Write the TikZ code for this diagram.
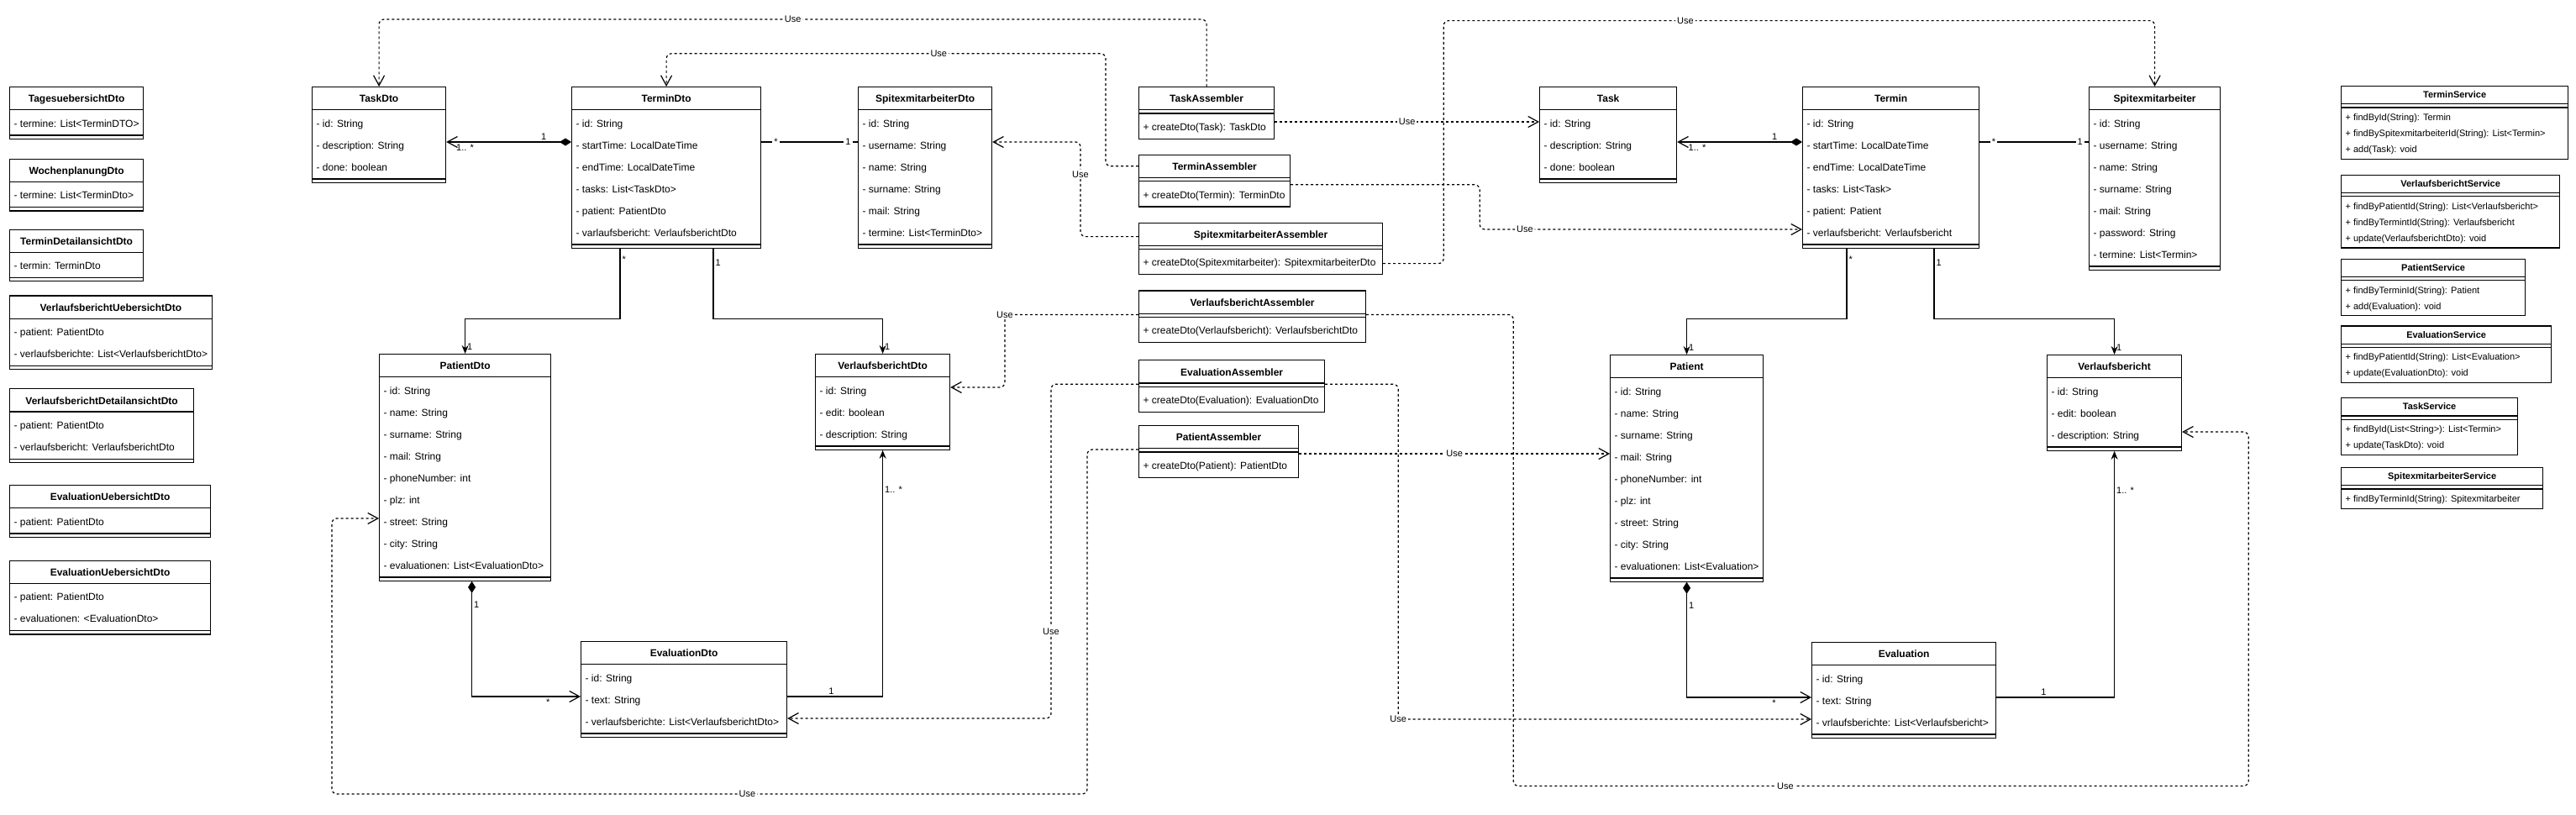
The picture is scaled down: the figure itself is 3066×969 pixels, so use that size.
\documentclass[tikz,border=0pt]{standalone}
\usepackage{fontspec}
\setmainfont{Liberation Sans}
\usepackage{tikz}
\usetikzlibrary{positioning, shapes.multipart, arrows.meta}

\begin{document}
\begin{tikzpicture}[x=0.5pt, y=-0.5pt,
  umlclass/.style={draw, line width=0.6pt, fill=white, anchor=north west, align=left,
    rectangle split, rectangle split parts=3, rectangle split part align={center,left,left},
    inner xsep=2.5pt, inner ysep=0.75pt,
    font=\fontsize{6pt}{11.5pt}\selectfont\bfseries,
    every two node part/.style={font=\fontsize{6pt}{13pt}\selectfont\mdseries},
    every three node part/.style={font=\fontsize{6pt}{13pt}\selectfont\mdseries}},
  svcclass/.style={umlclass, font=\fontsize{5.5pt}{8.5pt}\selectfont\bfseries,
    every three node part/.style={font=\fontsize{5.5pt}{9.5pt}\selectfont\mdseries}},
  assoc/.style={line width=0.6pt, -{Stealth[length=5pt,width=4pt]}},
  comp/.style={line width=0.6pt, {Diamond[length=7pt,width=4.5pt]}-{Straight Barb[length=6pt,width=6.5pt]}},
  link/.style={line width=0.6pt},
  usedep/.style={line width=0.6pt, dash pattern=on 1.5pt off 1.5pt, rounded corners=3pt,
    -{Straight Barb[length=6pt,width=6.5pt]}},
  mult/.style={font=\fontsize{5.5pt}{6pt}\selectfont, inner sep=1pt},
  onlbl/.style={mult, fill=white}]
  \path[use as bounding box, fill=white] (0,0) rectangle (3066,969);

  \node[umlclass, minimum width=79.5pt] (tagesdto) at (11,103)
    {\strut TagesuebersichtDto\nodepart{two}\strut - termine: List<TerminDTO>\nodepart{three}\rule{1pt}{0pt}};
  \node[umlclass, minimum width=79.5pt, below=11.5pt of tagesdto.south west, anchor=north west] (wochendto)
    {\strut WochenplanungDto\nodepart{two}\strut - termine: List<TerminDto>\nodepart{three}\rule{1pt}{0pt}};
  \node[umlclass, minimum width=79.5pt, below=10.5pt of wochendto.south west, anchor=north west] (termindetaildto)
    {\strut TerminDetailansichtDto\nodepart{two}\strut - termin: TerminDto\nodepart{three}\rule{1pt}{0pt}};
  \node[umlclass, minimum width=119.5pt, below=8pt of termindetaildto.south west, anchor=north west] (vbuebersichtdto)
    {\strut VerlaufsberichtUebersichtDto\nodepart{two}\strut - patient: PatientDto\\- verlaufsberichte: List<VerlaufsberichtDto>\strut\nodepart{three}\rule{1pt}{0pt}};
  \node[umlclass, minimum width=109.5pt, below=11pt of vbuebersichtdto.south west, anchor=north west] (vbdetaildto)
    {\strut VerlaufsberichtDetailansichtDto\nodepart{two}\strut - patient: PatientDto\\- verlaufsbericht: VerlaufsberichtDto\strut\nodepart{three}\rule{1pt}{0pt}};
  \node[umlclass, minimum width=119.5pt, below=13pt of vbdetaildto.south west, anchor=north west] (evaluebersichtdto)
    {\strut EvaluationUebersichtDto\nodepart{two}\strut - patient: PatientDto\nodepart{three}\rule{1pt}{0pt}};
  \node[umlclass, minimum width=119.5pt, below=13.5pt of evaluebersichtdto.south west, anchor=north west] (evallistdto)
    {\strut EvaluationUebersichtDto\nodepart{two}\strut - patient: PatientDto\\- evaluationen: <EvaluationDto>\strut\nodepart{three}\rule{1pt}{0pt}};

  \node[umlclass, minimum width=79.5pt] (taskdto) at (371,103)
    {\strut TaskDto\nodepart{two}\strut - id: String\\- description: String\\- done: boolean\strut\nodepart{three}\rule{1pt}{0pt}};
  \node[umlclass, minimum width=112.5pt] (termindto) at (680,103)
    {\strut TerminDto\nodepart{two}\strut - id: String\\- startTime: LocalDateTime\\- endTime: LocalDateTime\\- tasks: List<TaskDto>\\- patient: PatientDto\\- varlaufsbericht: VerlaufsberichtDto\strut\nodepart{three}\rule{1pt}{0pt}};
  \node[umlclass, minimum width=79.5pt] (spitexdto) at (1021,103)
    {\strut SpitexmitarbeiterDto\nodepart{two}\strut - id: String\\- username: String\\- name: String\\- surname: String\\- mail: String\\- termine: List<TerminDto>\strut\nodepart{three}\rule{1pt}{0pt}};
  \node[umlclass, minimum width=102pt] (patientdto) at (451,421)
    {\strut PatientDto\nodepart{two}\strut - id: String\\- name: String\\- surname: String\\- mail: String\\- phoneNumber: int\\- plz: int\\- street: String\\- city: String\\- evaluationen: List<EvaluationDto>\strut\nodepart{three}\rule{1pt}{0pt}};
  \node[umlclass, minimum width=80pt] (vbdto) at (970,421)
    {\strut VerlaufsberichtDto\nodepart{two}\strut - id: String\\- edit: boolean\\- description: String\strut\nodepart{three}\rule{1pt}{0pt}};
  \node[umlclass, minimum width=122.5pt] (evaldto) at (691,763)
    {\strut EvaluationDto\nodepart{two}\strut - id: String\\- text: String\\- verlaufsberichte: List<VerlaufsberichtDto>\strut\nodepart{three}\rule{1pt}{0pt}};

  \node[umlclass, minimum width=80.5pt] (taskasm) at (1355,103)
    {\strut TaskAssembler\nodepart{two}\rule{1pt}{0pt}\nodepart{three}\strut + createDto(Task): TaskDto};
  \node[umlclass, minimum width=90pt, below=9pt of taskasm.south west, anchor=north west] (terminasm)
    {\strut TerminAssembler\nodepart{two}\rule{1pt}{0pt}\nodepart{three}\strut + createDto(Termin): TerminDto};
  \node[umlclass, minimum width=145pt, below=9pt of terminasm.south west, anchor=north west] (spitexasm)
    {\strut SpitexmitarbeiterAssembler\nodepart{two}\rule{1pt}{0pt}\nodepart{three}\strut + createDto(Spitexmitarbeiter): SpitexmitarbeiterDto};
  \node[umlclass, minimum width=135pt, below=9pt of spitexasm.south west, anchor=north west] (vbasm)
    {\strut VerlaufsberichtAssembler\nodepart{two}\rule{1pt}{0pt}\nodepart{three}\strut + createDto(Verlaufsbericht): VerlaufsberichtDto};
  \node[umlclass, minimum width=110.5pt, below=10pt of vbasm.south west, anchor=north west] (evalasm)
    {\strut EvaluationAssembler\nodepart{two}\rule{1pt}{0pt}\nodepart{three}\strut + createDto(Evaluation): EvaluationDto};
  \node[umlclass, minimum width=95pt, below=7.5pt of evalasm.south west, anchor=north west] (patientasm)
    {\strut PatientAssembler\nodepart{two}\rule{1pt}{0pt}\nodepart{three}\strut + createDto(Patient): PatientDto};

  \node[umlclass, minimum width=81.5pt] (task) at (1832,103)
    {\strut Task\nodepart{two}\strut - id: String\\- description: String\\- done: boolean\strut\nodepart{three}\rule{1pt}{0pt}};
  \node[umlclass, minimum width=105pt] (termin) at (2145,103)
    {\strut Termin\nodepart{two}\strut - id: String\\- startTime: LocalDateTime\\- endTime: LocalDateTime\\- tasks: List<Task>\\- patient: Patient\\- verlaufsbericht: Verlaufsbericht\strut\nodepart{three}\rule{1pt}{0pt}};
  \node[umlclass, minimum width=78pt] (spitex) at (2486,103)
    {\strut Spitexmitarbeiter\nodepart{two}\strut - id: String\\- username: String\\- name: String\\- surname: String\\- mail: String\\- password: String\\- termine: List<Termin>\strut\nodepart{three}\rule{1pt}{0pt}};
  \node[umlclass, minimum width=90pt] (patient) at (1916,422)
    {\strut Patient\nodepart{two}\strut - id: String\\- name: String\\- surname: String\\- mail: String\\- phoneNumber: int\\- plz: int\\- street: String\\- city: String\\- evaluationen: List<Evaluation>\strut\nodepart{three}\rule{1pt}{0pt}};
  \node[umlclass, minimum width=80pt] (vb) at (2436,422)
    {\strut Verlaufsbericht\nodepart{two}\strut - id: String\\- edit: boolean\\- description: String\strut\nodepart{three}\rule{1pt}{0pt}};
  \node[umlclass, minimum width=109.5pt] (evaluation) at (2156,764)
    {\strut Evaluation\nodepart{two}\strut - id: String\\- text: String\\- vrlaufsberichte: List<Verlaufsbericht>\strut\nodepart{three}\rule{1pt}{0pt}};

  \node[svcclass, minimum width=135pt] (terminsvc) at (2786,102)
    {\strut TerminService\nodepart{two}\rule{1pt}{0pt}\nodepart{three}\strut + findById(String): Termin\\+ findBySpitexmitarbeiterId(String): List<Termin>\\+ add(Task): void\strut};
  \node[svcclass, minimum width=130pt, below=9pt of terminsvc.south west, anchor=north west] (vbsvc)
    {\strut VerlaufsberichtService\nodepart{two}\rule{1pt}{0pt}\nodepart{three}\strut + findByPatientId(String): List<Verlaufsbericht>\\+ findByTermintId(String): Verlaufsbericht\\+ update(VerlaufsberichtDto): void\strut};
  \node[svcclass, minimum width=109.5pt, below=6pt of vbsvc.south west, anchor=north west] (patientsvc)
    {\strut PatientService\nodepart{two}\rule{1pt}{0pt}\nodepart{three}\strut + findByTerminId(String): Patient\\+ add(Evaluation): void\strut};
  \node[svcclass, minimum width=125pt, below=5.5pt of patientsvc.south west, anchor=north west] (evalsvc)
    {\strut EvaluationService\nodepart{two}\rule{1pt}{0pt}\nodepart{three}\strut + findByPatientId(String): List<Evaluation>\\+ update(EvaluationDto): void\strut};
  \node[svcclass, minimum width=105pt, below=8.5pt of evalsvc.south west, anchor=north west] (tasksvc)
    {\strut TaskService\nodepart{two}\rule{1pt}{0pt}\nodepart{three}\strut + findById(List<String>): List<Termin>\\+ update(TaskDto): void\strut};
  \node[svcclass, minimum width=120pt, below=7pt of tasksvc.south west, anchor=north west] (spitexsvc)
    {\strut SpitexmitarbeiterService\nodepart{two}\rule{1pt}{0pt}\nodepart{three}\strut + findByTerminId(String): Spitexmitarbeiter};

  \draw[comp] ([yshift=-33pt]termindto.north west) -- ([yshift=-33pt]taskdto.north east)
    node[mult, pos=0.22, above] {1} node[mult, pos=0.85, below] {1.. *};
  \draw[link] ([yshift=-33pt]termindto.north east) -- ([yshift=-33pt]spitexdto.north west)
    node[onlbl, pos=0.15] {*} node[onlbl, pos=0.9] {1};
  \draw[assoc] ([xshift=29pt]termindto.south west) -- ++(0,84) node[mult, pos=0.15, right] {*}
    -| (patientdto.north) node[mult, pos=0.9, right] {1};
  \draw[assoc] ([xshift=84.5pt]termindto.south west) -- ++(0,84) node[mult, pos=0.2, right] {1}
    -| (vbdto.north) node[mult, pos=0.9, right] {1};
  \draw[comp] ([xshift=4pt]patientdto.south) |- ([yshift=-33pt]evaldto.north west)
    node[mult, pos=0.1, right] {1} node[mult, pos=0.85, below] {*};
  \draw[assoc] ([yshift=-33pt]evaldto.north east) -| (vbdto.south)
    node[mult, pos=0.23, above] {1} node[mult, pos=0.92, right] {1.. *};

  \draw[usedep] (taskasm.north) -- ++(0,-80) -| (taskdto.north) node[onlbl, pos=0.25] {Use};
  \draw[usedep] ([yshift=-7pt]terminasm.north west) -- ++(-39,0) -- ++(0,-134) -| (termindto.north)
    node[onlbl, pos=0.19] {Use};
  \draw[usedep] ([yshift=-8.5pt]spitexasm.north west) -- ++(-69,0) |- ([yshift=-33pt]spitexdto.north east)
    node[onlbl, pos=0.33] {Use};
  \draw[usedep] ([yshift=-14.5pt]vbasm.north west) -- ++(-159,0) node[onlbl, pos=1] {Use}
    |- ([yshift=-20pt]vbdto.north east);
  \draw[usedep] ([yshift=-14.5pt]evalasm.north west) -- ++(-104,0) |- ([yshift=-46pt]evaldto.north east)
    node[onlbl, pos=0.37] {Use};
  \draw[usedep] ([yshift=-14.5pt]patientasm.north west) -- ++(-61,0) -- ++(0,410) -- ++(-899,0)
    node[onlbl, pos=0.45] {Use} |- ([yshift=-98pt]patientdto.north west);

  \draw[usedep] ([yshift=-21pt]taskasm.north east) -- ([yshift=-21pt]task.north west) node[onlbl, midway] {Use};
  \draw[usedep] ([yshift=-18pt]terminasm.north east) -- ++(225,0) |- ([yshift=-85pt]termin.north west)
    node[onlbl, pos=0.57] {Use};
  \draw[usedep] ([yshift=-24.5pt]spitexasm.north east) -- ++(72,0) -- ++(0,-289) -| (spitex.north)
    node[onlbl, pos=0.17] {Use};
  \draw[usedep] ([yshift=-14.5pt]vbasm.north east) -- ++(175,0) -- ++(0,561) -- ++(875,0)
    node[onlbl, pos=0.37] {Use} |- ([yshift=-46pt]vb.north east);
  \draw[usedep] ([yshift=-14.5pt]evalasm.north east) -- ++(87,0) |- ([yshift=-46pt]evaluation.north west)
    node[onlbl, pos=0.5] {Use};
  \draw[usedep] ([yshift=-59pt]patientasm.east |- patient.north west) -- ([yshift=-59pt]patient.north west)
    node[onlbl, midway] {Use};

  \draw[comp] ([yshift=-33pt]termin.north west) -- ([yshift=-33pt]task.north east)
    node[mult, pos=0.22, above] {1} node[mult, pos=0.84, below] {1.. *};
  \draw[link] ([yshift=-33pt]termin.north east) -- ([yshift=-33pt]spitex.north west)
    node[onlbl, pos=0.13] {*} node[onlbl, pos=0.92] {1};
  \draw[assoc] ([xshift=26.5pt]termin.south west) -- ++(0,84) node[mult, pos=0.15, right] {*}
    -| (patient.north) node[mult, pos=0.9, right] {1};
  \draw[assoc] ([xshift=78.5pt]termin.south west) -- ++(0,84) node[mult, pos=0.2, right] {1}
    -| (vb.north) node[mult, pos=0.9, right] {1};
  \draw[comp] (patient.south) |- ([yshift=-33pt]evaluation.north west)
    node[mult, pos=0.1, right] {1} node[mult, pos=0.85, below] {*};
  \draw[assoc] ([yshift=-33pt]evaluation.north east) -| (vb.south)
    node[mult, pos=0.2, above] {1} node[mult, pos=0.92, right] {1.. *};
\end{tikzpicture}
\end{document}
